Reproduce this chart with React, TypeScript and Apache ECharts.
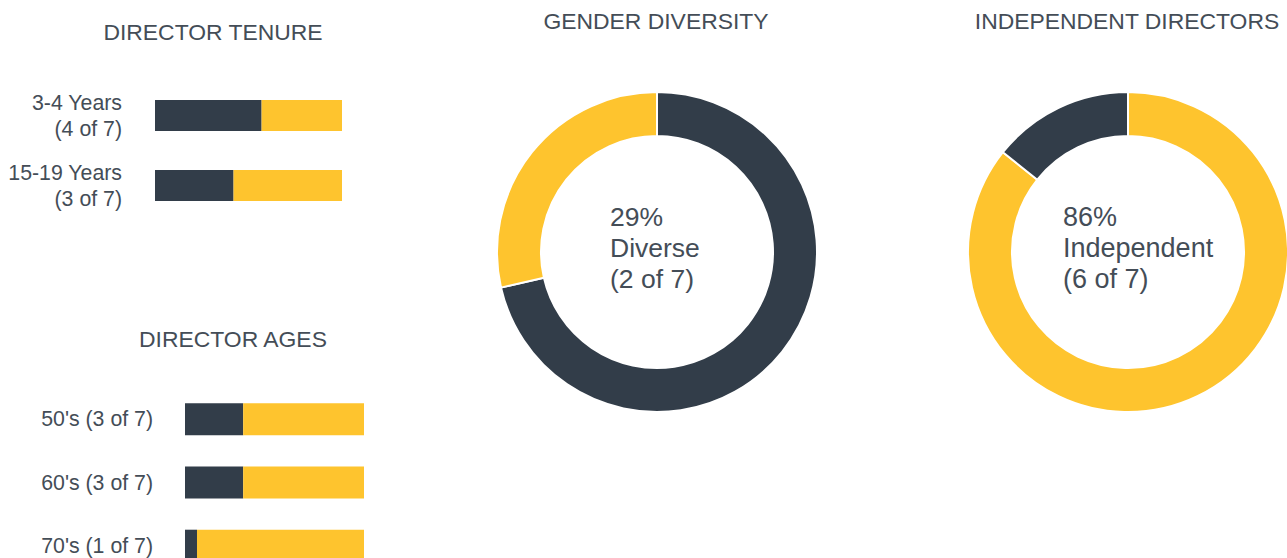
import React, { useEffect, useRef } from "react";
import * as echarts from "echarts";

const DARK = "#323d49";
const YELLOW = "#fec42e";
const TEXT = "#444d57";
const FONT = "'Liberation Sans', Arial, sans-serif";

const tenureCategories = ["3-4 Years\n(4 of 7)", "15-19 Years\n(3 of 7)"];
const tenureDark = [57, 42];
const tenureRest = [43, 58];

const ageCategories = ["50's (3 of 7)", "60's (3 of 7)", "70's (1 of 7)"];
const ageDark = [32.5, 32.5, 6.7];
const ageRest = [67.5, 67.5, 93.3];

const genderData = [
  { name: "Not Diverse", value: 5 },
  { name: "Diverse", value: 2 },
];
const independentData = [
  { name: "Independent", value: 6 },
  { name: "Not Independent", value: 1 },
];

const genderCenterText = "29%\nDiverse\n(2 of 7)";
const independentCenterText = "86%\nIndependent\n(6 of 7)";

const titles = [
  { text: "DIRECTOR TENURE", x: 213, y: 32 },
  { text: "DIRECTOR AGES", x: 233, y: 339 },
  { text: "GENDER DIVERSITY", x: 656, y: 21 },
  { text: "INDEPENDENT DIRECTORS", x: 1127, y: 21 },
];

export default function App() {
  const ref = useRef<HTMLDivElement>(null);
  useEffect(() => {
    if (!ref.current) return;
    const chart = echarts.init(ref.current, null, { renderer: "svg" });
    const labelStyle = {
      color: TEXT,
      fontFamily: FONT,
      fontSize: 21.3,
      align: "right" as const,
    };
    const option: any = {
      animation: false,
      backgroundColor: "#ffffff",
      grid: [
        { left: 155, top: 80.5, width: 187, height: 140, outerBoundsMode: "none", containLabel: false },
        { left: 185, top: 387.7, width: 179, height: 189.6, outerBoundsMode: "none", containLabel: false },
      ],
      xAxis: [
        { type: "value", gridIndex: 0, min: 0, max: 100, show: false },
        { type: "value", gridIndex: 1, min: 0, max: 100, show: false },
      ],
      yAxis: [
        {
          type: "category",
          gridIndex: 0,
          data: tenureCategories,
          inverse: true,
          axisLine: { show: false },
          axisTick: { show: false },
          splitLine: { show: false },
          axisLabel: { ...labelStyle, margin: 33, lineHeight: 26, padding: [6, 0, 0, 0] },
        },
        {
          type: "category",
          gridIndex: 1,
          data: ageCategories,
          inverse: true,
          axisLine: { show: false },
          axisTick: { show: false },
          splitLine: { show: false },
          axisLabel: { ...labelStyle, margin: 32, padding: [6, 0, 0, 0] },
        },
      ],
      series: [
        {
          type: "bar",
          xAxisIndex: 0,
          yAxisIndex: 0,
          stack: "t",
          data: tenureDark,
          barWidth: 31,
          itemStyle: { color: DARK },
        },
        {
          type: "bar",
          xAxisIndex: 0,
          yAxisIndex: 0,
          stack: "t",
          data: tenureRest,
          barWidth: 31,
          itemStyle: { color: YELLOW },
        },
        {
          type: "bar",
          xAxisIndex: 1,
          yAxisIndex: 1,
          stack: "a",
          data: ageDark,
          barWidth: 32,
          clip: false,
          itemStyle: { color: DARK },
        },
        {
          type: "bar",
          xAxisIndex: 1,
          yAxisIndex: 1,
          stack: "a",
          data: ageRest,
          barWidth: 32,
          clip: false,
          itemStyle: { color: YELLOW },
        },
        {
          type: "pie",
          center: [657, 252],
          radius: [116, 160],
          startAngle: 90,
          clockwise: true,
          label: { show: false },
          labelLine: { show: false },
          silent: true,
          data: genderData,
          color: [DARK, YELLOW],
          itemStyle: { borderColor: "#ffffff", borderWidth: 2 },
        },
        {
          type: "pie",
          center: [1128, 252],
          radius: [116, 160],
          startAngle: 90,
          clockwise: true,
          label: { show: false },
          labelLine: { show: false },
          silent: true,
          data: independentData,
          color: [YELLOW, DARK],
          itemStyle: { borderColor: "#ffffff", borderWidth: 2 },
        },
      ],
      graphic: [
        ...titles.map((t) => ({
          type: "text",
          x: t.x,
          y: t.y,
          style: {
            text: t.text,
            align: "center",
            verticalAlign: "middle",
            fontFamily: FONT,
            fontSize: 22.9,
            fill: TEXT,
          },
        })),
        {
          type: "text",
          x: 610,
          y: 248,
          style: {
            text: genderCenterText,
            align: "left",
            verticalAlign: "middle",
            fontFamily: FONT,
            fontSize: 26.5,
            lineHeight: 31,
            fill: TEXT,
          },
        },
        {
          type: "text",
          x: 1063,
          y: 248,
          style: {
            text: independentCenterText,
            align: "left",
            verticalAlign: "middle",
            fontFamily: FONT,
            fontSize: 27,
            lineHeight: 31,
            fill: TEXT,
          },
        },
      ],
    };
    chart.setOption(option);
    return () => chart.dispose();
  }, []);
  return (
    <div
      ref={ref}
      style={{ position: "absolute", left: 0, top: 0, width: 1287, height: 558 }}
    />
  );
}
